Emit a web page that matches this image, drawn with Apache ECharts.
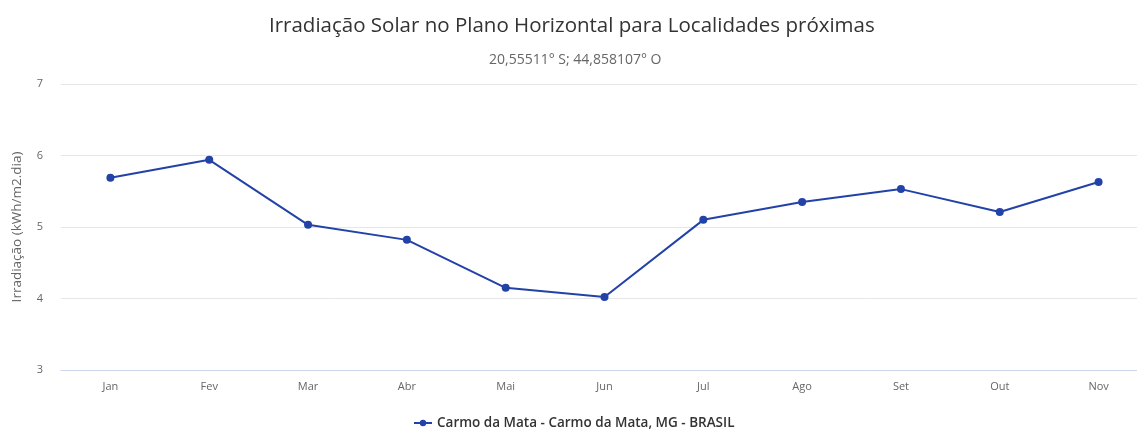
<!DOCTYPE html>
<html>
<head>
<meta charset="utf-8">
<script src="https://cdn.jsdelivr.net/npm/echarts@6/dist/echarts.min.js"></script>
<style>
  html, body { margin: 0; padding: 0; background: #fff; }
  #chart { width: 1137px; height: 429px; }
</style>
</head>
<body>
<div id="chart"></div>
<script>
var months = ["Jan", "Fev", "Mar", "Abr", "Mai", "Jun", "Jul", "Ago", "Set", "Out", "Nov"];
var irradiacao = [5.69, 5.94, 5.03, 4.82, 4.15, 4.02, 5.10, 5.35, 5.53, 5.21, 5.63];
var seriesName = "Carmo da Mata - Carmo da Mata, MG - BRASIL";
var titleText = "Irradiação Solar no Plano Horizontal para Localidades próximas";
var subtitleText = "20,55511° S; 44,858107° O";

var font = "'Open Sans', 'DejaVu Sans', sans-serif";
var lineColor = "#2342a8";

var chart = echarts.init(document.getElementById("chart"));
chart.setOption({
    animation: false,
    textStyle: { fontFamily: font },
    title: [ {
        text: titleText,
        left: 264,
        top: 11,
        textStyle: { fontSize: 20.5, fontWeight: "normal", color: "#333333", fontFamily: font }
    }, {
        text: subtitleText,
        left: 484,
        top: 48,
        textStyle: { fontSize: 14, fontWeight: "normal", color: "#666666", fontFamily: font }
    } ],
    legend: {
        top: 411,
        left: 408,
        data: [ seriesName ],
        itemWidth: 18,
        itemHeight: 8,
        itemGap: 5,
        textStyle: { fontSize: 13.5, fontWeight: 600, color: "#333333" }
    },
    grid: {
        left: 61,
        top: 84,
        width: 1087,
        height: 286,
        outerBoundsMode: "none"
    },
    xAxis: {
        type: "category",
        data: months,
        boundaryGap: true,
        axisLine: { lineStyle: { color: "#ccd6eb" } },
        axisTick: { show: false },
        axisLabel: { color: "#666666", fontSize: 11, margin: 11 }
    },
    yAxis: {
        type: "value",
        min: 3,
        max: 7,
        interval: 1,
        name: "Irradiação (kWh/m2.dia)",
        nameLocation: "middle",
        nameGap: 37,
        nameTextStyle: { color: "#666666", fontSize: 13.5 },
        axisLine: { show: false },
        axisTick: { show: false },
        axisLabel: { color: "#666666", fontSize: 11, margin: 18 },
        splitLine: { lineStyle: { color: "#e6e6e6" } }
    },
    series: [ {
        name: seriesName,
        type: "line",
        data: irradiacao,
        color: lineColor,
        symbol: "circle",
        symbolSize: 8,
        lineStyle: { width: 2, color: lineColor },
        itemStyle: { color: lineColor }
    } ]
});
</script>
</body>
</html>
